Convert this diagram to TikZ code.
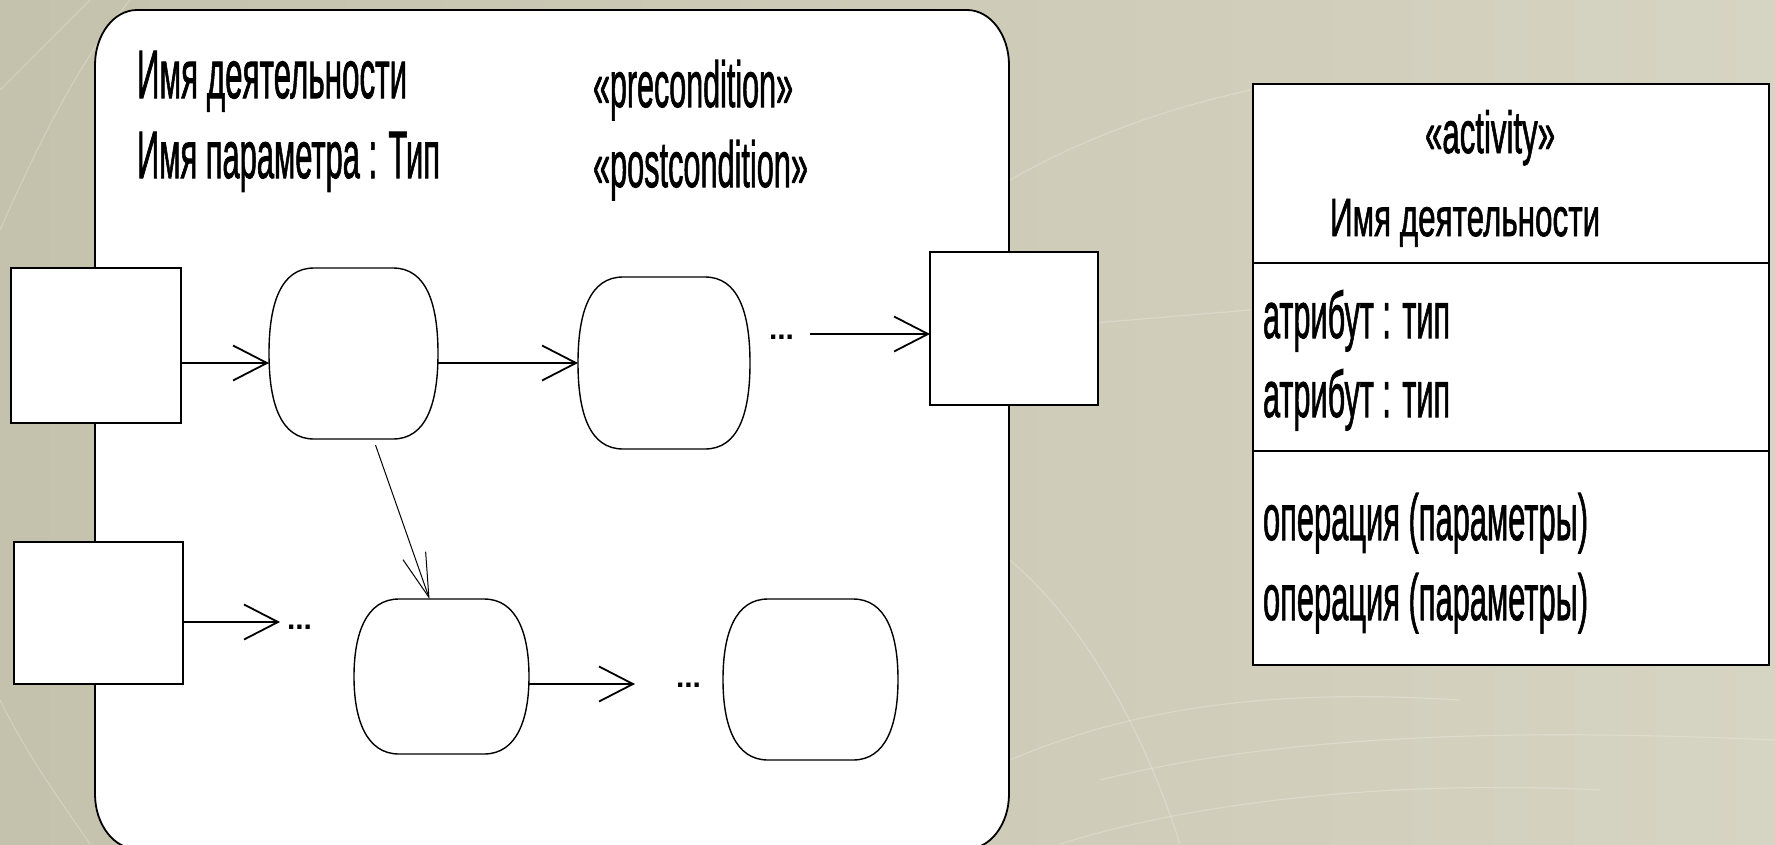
\documentclass[tikz,border=0pt]{standalone}
\usepackage{fontspec}
\setmainfont{Liberation Sans}
\newfontfamily\tf{Liberation Sans}[FakeBold=1.6]
\usetikzlibrary{arrows.meta}
\newcommand\rz[3]{\resizebox{#1pt}{#2pt}{\tf #3}}
\definecolor{bgL}{RGB}{196,194,172}
\definecolor{bgR}{RGB}{214,212,194}
\newcommand\barrel[1]{%
  \draw[actline]
   ([xshift=45pt]#1.north west) -- ([xshift=-45pt]#1.north east)
   .. controls ([xshift=-12pt]#1.north east) and ([yshift=-35pt]#1.north east) .. (#1.east)
   .. controls ([yshift=35pt]#1.south east) and ([xshift=-12pt]#1.south east) .. ([xshift=-45pt]#1.south east)
   -- ([xshift=45pt]#1.south west)
   .. controls ([xshift=12pt]#1.south west) and ([yshift=35pt]#1.south west) .. (#1.west)
   .. controls ([yshift=-35pt]#1.north west) and ([xshift=12pt]#1.north west) .. cycle;}
\begin{document}
\begin{tikzpicture}[x=1pt,y=-1pt,
  every node/.style={inner sep=0pt, outer sep=0pt},
  txt/.style={anchor=base west},
  pin/.style={draw=black, line width=1.8pt, fill=white, rectangle},
  act/.style={rectangle},
  actline/.style={draw=black, line width=1.4pt, fill=white},
  flow/.style={line width=1.8pt, -{Straight Barb[length=34pt,width=35pt]}},
  thinflow/.style={line width=1pt, -{Straight Barb[length=44pt,width=24pt]}},
  dots/.style={anchor=west, font=\bfseries\fontsize{30}{30}\selectfont},
  bgline/.style={draw=white, opacity=0.22, line width=1.2pt},
]
\useasboundingbox (0,0) rectangle (1775,844);
\shade[left color=bgL, right color=bgR] (0,0) rectangle (1775,844);
% faint background texture
\draw[bgline] (0,230) .. controls (40,140) and (80,60) .. (130,0);
\draw[bgline] (0,90) .. controls (30,60) and (60,30) .. (90,0);
\draw[bgline] (0,700) .. controls (30,760) and (60,800) .. (90,844);
\draw[bgline] (1010,180) .. controls (1080,140) and (1160,110) .. (1250,90);
\draw[bgline] (1010,330) -- (1250,310);
\draw[bgline] (1010,560) .. controls (1080,620) and (1140,720) .. (1180,844);
\draw[bgline] (1010,760) .. controls (1150,700) and (1300,690) .. (1460,700);
\draw[bgline] (1100,780) .. controls (1300,730) and (1550,730) .. (1775,740);
\draw[bgline] (1060,844) .. controls (1200,800) and (1400,780) .. (1600,790);

% activity frame
\draw[line width=1.8pt, fill=white]
  (95,65) arc[start angle=180, end angle=270, x radius=42, y radius=55]
  -- (967,10) arc[start angle=270, end angle=360, x radius=42, y radius=55]
  -- (1009,794) arc[start angle=0, end angle=90, x radius=42, y radius=55]
  -- (137,849) arc[start angle=90, end angle=180, x radius=42, y radius=55]
  -- cycle;

\node[txt] (t1) at (137,98) {\rz{270}{47}{Имя деятельности}};
\node[txt] (t2) at (137,178) {\rz{303}{46}{Имя параметра : Тип}};
\node[txt] (t3) at (593,107) {\rz{200}{47}{«precondition»}};
\node[txt] (t4) at (593,187) {\rz{215}{47}{«postcondition»}};

% parameter pins
\node[pin, minimum width=170pt, minimum height=155pt] (box1) at (96,345.5) {};
\node[pin, minimum width=169pt, minimum height=142pt] (box2) at (98.5,613) {};
\node[pin, minimum width=168pt, minimum height=153pt] (rbox) at (1014,328.5) {};

% actions
\node[act, minimum width=169pt, minimum height=171pt] (n1) at (353.5,353.5) {};
\node[act, minimum width=172pt, minimum height=172pt] (n2) at (664,363) {};
\node[act, minimum width=175pt, minimum height=155pt] (n3) at (441.5,676.5) {};
\node[act, minimum width=175pt, minimum height=161pt] (n4) at (810.5,679.5) {};
\barrel{n1}\barrel{n2}\barrel{n3}\barrel{n4}

% ellipses
\node[dots] (d1) at (769,337) {...};
\node[dots] (d2) at (287,627) {...};
\node[dots] (d3) at (676,685) {...};

\coordinate (a0) at (810,334);
\coordinate (b1) at (280,622);
\coordinate (c1) at (635,684);

\draw[flow] (box1.east |- 0,363) -- (n1.west |- 0,363);
\draw[flow] (n1.east |- n2.west) -- (n2.west);
\draw[flow] (a0) -- (rbox.west |- a0);
\draw[flow] (box2.east |- b1) -- (b1);
\draw[flow] (n3.east |- c1) -- (c1);
\draw[thinflow] ([xshift=22pt,yshift=-6pt]n1.south) -- ([xshift=-12pt]n3.north);

% class notation
\node[draw=black, line width=1.8pt, fill=white, minimum width=516pt, minimum height=581pt] (cls) at (1511,374.5) {};
\draw[line width=1.8pt] (cls.west |- 0,263) -- (cls.east |- 0,263);
\draw[line width=1.8pt] (cls.west |- 0,451) -- (cls.east |- 0,451);
\node[txt] (c0) at (1425,153) {\rz{130}{43}{«activity»}};
\node[txt] (c1t) at (1330,236) {\rz{270}{37}{Имя деятельности}};
\node[txt] (c2) at (1263,338) {\rz{187}{48}{атрибут : тип}};
\node[txt] (c3) at (1263,417) {\rz{187}{48}{атрибут : тип}};
\node[txt] (c4) at (1263,540) {\rz{325}{47}{операция (параметры)}};
\node[txt] (c5) at (1263,620) {\rz{325}{47}{операция (параметры)}};
\end{tikzpicture}
\end{document}
